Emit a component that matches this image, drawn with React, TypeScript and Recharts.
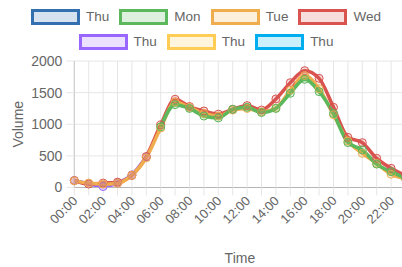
import React from "react";
import { LineChart, Line, XAxis, YAxis, CartesianGrid, Label } from "recharts";

const hours = [
  "00:00", "01:00", "02:00", "03:00", "04:00", "05:00", "06:00", "07:00",
  "08:00", "09:00", "10:00", "11:00", "12:00", "13:00", "14:00", "15:00",
  "16:00", "17:00", "18:00", "19:00", "20:00", "21:00", "22:00", "23:00",
];

const yTicks = [0, 500, 1000, 1500, 2000];

const thuA: (number | null)[] = hours.map(() => null);
const mon: (number | null)[] = [
  null, null, null, null, null, null, 960, 1310, 1250, 1130, 1100, 1236,
  1268, 1185, 1250, 1490, 1710, 1515, 1170, 710, 595, 370, 250, 150,
];
const tue: (number | null)[] = [
  105, 70, 55, 65, 195, 470, 940, 1350, 1265, 1170, 1130, 1225,
  1250, 1195, 1255, 1540, 1770, 1560, 1150, 735, 540, 380, 210, 140,
];
const wed: (number | null)[] = [
  110, 55, 70, 85, 190, 490, 990, 1395, 1280, 1210, 1160, 1236,
  1295, 1225, 1400, 1657, 1847, 1726, 1268, 793, 709, 461, 303, 190,
];
const thuB: (number | null)[] = [
  110, 60, 15, 70, 200, 480, null, null, null, null, null, null,
  null, null, null, null, null, null, null, null, null, null, null, null,
];
const thuC: (number | null)[] = hours.map(() => null);
const thuD: (number | null)[] = hours.map(() => null);

const SERIES = [
  { key: "s0", name: "Thu", values: thuA, color: "#3470b0", light: "rgba(52,112,176,0.2)" },
  { key: "s1", name: "Mon", values: mon, color: "#5cb85c", light: "rgba(92,184,92,0.2)" },
  { key: "s2", name: "Tue", values: tue, color: "#f0ad4e", light: "rgba(240,173,78,0.2)" },
  { key: "s3", name: "Wed", values: wed, color: "#d9534f", light: "rgba(217,83,79,0.2)" },
  { key: "s4", name: "Thu", values: thuB, color: "#9966ff", light: "rgba(153,102,255,0.2)" },
  { key: "s5", name: "Thu", values: thuC, color: "#ffcd56", light: "rgba(255,205,86,0.2)" },
  { key: "s6", name: "Thu", values: thuD, color: "#00aeef", light: "rgba(0,174,239,0.2)" },
];

const data = hours.map((h, i) => {
  const row: Record<string, string | number | null> = { time: h };
  SERIES.forEach((s) => {
    row[s.key] = s.values[i];
  });
  return row;
});

const FONT = "'Liberation Sans', Arial, Helvetica, sans-serif";

const XTick = (props: any) => {
  const { x, y, payload } = props;
  if (payload.index % 2 !== 0) return <g />;
  return (
    <text
      x={x + 4}
      y={y + 4}
      transform={`rotate(-45 ${x + 4} ${y + 4})`}
      textAnchor="end"
      fontSize={13}
      fill="#666"
      fontFamily={FONT}
    >
      {payload.value}
    </text>
  );
};

const LegendRow = ({ items }: { items: typeof SERIES }) => (
  <div style={{ display: "flex", justifyContent: "center", gap: 10, height: 25, alignItems: "center" }}>
    {items.map((s, i) => (
      <div key={i} style={{ display: "flex", alignItems: "center" }}>
        <div
          style={{
            width: 49,
            height: 16,
            boxSizing: "border-box",
            border: `3px solid ${s.color}`,
            background: s.light,
            marginRight: 6,
          }}
        />
        <span style={{ fontSize: 13.5, color: "#666", fontFamily: FONT }}>{s.name}</span>
      </div>
    ))}
  </div>
);

export default function App() {
  const W = 412;
  const H = 267;
  return (
    <div style={{ position: "absolute", left: 0, top: 0, width: 402, height: H, overflow: "hidden", background: "#fff" }}>
      <div style={{ position: "absolute", left: 0, top: 4, width: W }}>
        <LegendRow items={SERIES.slice(0, 4)} />
        <LegendRow items={SERIES.slice(4)} />
      </div>
      <LineChart
        width={W}
        height={H}
        data={data}
        margin={{ top: 61, right: 6.5, left: 0, bottom: 0 }}
        style={{ position: "absolute", left: 0, top: 0 }}
      >
        <CartesianGrid stroke="#e6e6e6" />
        <XAxis
          dataKey="time"
          interval={0}
          tick={<XTick />}
          tickSize={8}
          tickLine={{ stroke: "#e6e6e6" }}
          axisLine={{ stroke: "#b5b5b5" }}
          height={79.5}
        >
          <Label
            value="Time"
            position="insideBottom"
            offset={4}
            style={{ fontSize: 14, fill: "#666", fontFamily: FONT }}
          />
        </XAxis>
        <YAxis
          domain={[0, 2000]}
          ticks={yTicks}
          width={74.3}
          tickSize={8}
          tickMargin={4}
          tickLine={{ stroke: "#e6e6e6" }}
          axisLine={{ stroke: "#c8c8c8" }}
          tick={{ fontSize: 14, fill: "#666", fontFamily: FONT }}
        >
          <Label
            value="Volume"
            angle={-90}
            position="center"
            dx={-19}
            style={{ fontSize: 14, fill: "#666", fontFamily: FONT, textAnchor: "middle" }}
          />
        </YAxis>
        {[...SERIES].reverse().map((s) => (
          <Line
            key={s.key}
            dataKey={s.key}
            name={s.name}
            type="monotone"
            stroke={s.color}
            strokeWidth={3.5}
            dot={{ r: 4, fill: s.light, stroke: s.color, strokeWidth: 1 }}
            connectNulls={false}
            isAnimationActive={false}
          />
        ))}
      </LineChart>
    </div>
  );
}
